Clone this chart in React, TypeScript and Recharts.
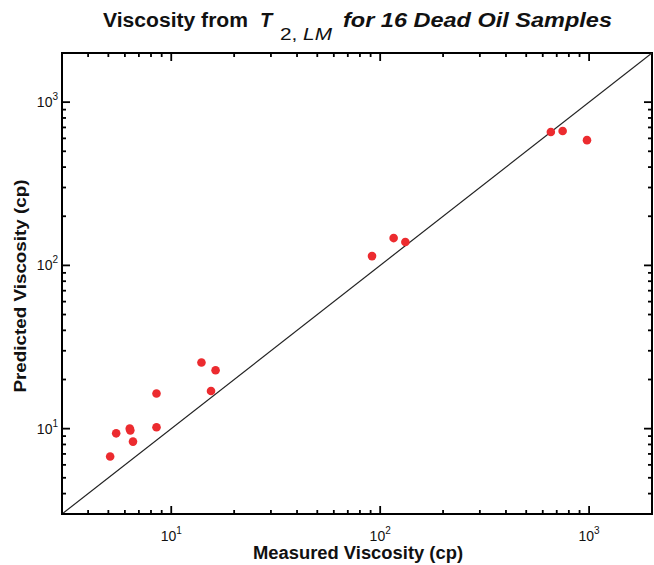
import { ReferenceArea, ReferenceLine, Scatter, ScatterChart, XAxis, YAxis } from "recharts";

// measured vs predicted viscosity (cp)
const measured = [5.1, 5.45, 6.33, 6.37, 6.56, 8.5, 8.5, 13.95, 16.3, 15.5, 91.4, 116, 132, 656, 747, 977];
const predicted = [6.75, 9.36, 10.0, 9.76, 8.33, 10.2, 16.4, 25.4, 22.8, 17.0, 114, 147, 139, 656, 665, 585];

const majorTicks = [10, 100, 1000];
const majorExponents = ["1", "2", "3"];
const minorTicks = [
  4, 5, 6, 7, 8, 9, 20, 30, 40, 50, 60, 70, 80, 90, 200, 300, 400, 500, 600, 700, 800, 900,
];
const domain: [number, number] = [3, 2000];

const data = measured.map((m, i) => ({ measured: m, predicted: predicted[i] }));

const font = "'Liberation Sans', Arial, sans-serif";

const expOf = (v: number) => {
  const i = majorTicks.indexOf(v);
  return i >= 0 ? majorExponents[i] : null;
};

const BottomTick = (props: any) => {
  const { x, y, payload } = props;
  const exp = expOf(payload.value);
  if (!exp) return <g />;
  return (
    <text x={x} y={y + 27} textAnchor="middle" fontSize={14} fontFamily={font} fill="#111">
      10<tspan dy={-7} fontSize={10}>{exp}</tspan>
    </text>
  );
};

const LeftTick = (props: any) => {
  const { x, y, payload } = props;
  const exp = expOf(payload.value);
  if (!exp) return <g />;
  return (
    <text x={x - 4} y={y + 5} textAnchor="end" fontSize={14} fontFamily={font} fill="#111">
      10<tspan dy={-7} fontSize={10}>{exp}</tspan>
    </text>
  );
};

// short inward tick marks at both ends of a reference line
const tickShape = (len: number, vertical: boolean) => (p: any) => {
  const { x1, y1, x2, y2 } = p;
  if (vertical) {
    const top = Math.min(y1, y2);
    const bot = Math.max(y1, y2);
    return (
      <g>
        <line x1={x1} y1={bot} x2={x1} y2={bot - len} stroke="#000" strokeWidth={1.8} />
        <line x1={x1} y1={top} x2={x1} y2={top + len} stroke="#000" strokeWidth={1.8} />
      </g>
    );
  }
  const left = Math.min(x1, x2);
  const right = Math.max(x1, x2);
  return (
    <g>
      <line x1={left} y1={y1} x2={left + len} y2={y1} stroke="#000" strokeWidth={1.8} />
      <line x1={right} y1={y1} x2={right - len} y2={y1} stroke="#000" strokeWidth={1.8} />
    </g>
  );
};

export default function App() {
  return (
    <div style={{ position: "absolute", left: 0, top: 0, width: 654, height: 565, background: "#fff" }}>
      <ScatterChart width={654} height={565} margin={{ top: 53, right: 2, left: 0, bottom: 0 }}>
        <XAxis
          dataKey="measured"
          type="number"
          scale="log"
          domain={domain}
          allowDataOverflow
          ticks={majorTicks}
          interval={0}
          tickSize={0}
          tickMargin={0}
          tickLine={false}
          height={51}
          axisLine={{ stroke: "#000", strokeWidth: 2 }}
          tick={<BottomTick />}
        />
        <YAxis
          dataKey="predicted"
          type="number"
          scale="log"
          domain={domain}
          allowDataOverflow
          ticks={majorTicks}
          interval={0}
          tickSize={0}
          tickMargin={0}
          tickLine={false}
          width={62}
          axisLine={{ stroke: "#000", strokeWidth: 2 }}
          tick={<LeftTick />}
        />
        <ReferenceArea
          x1={domain[0]}
          x2={domain[1]}
          y1={domain[0]}
          y2={domain[1]}
          fill="none"
          fillOpacity={0}
          stroke="#000"
          strokeWidth={2}
        />
        {minorTicks.map((t) => (
          <ReferenceLine key={`mx${t}`} x={t} stroke="none" shape={tickShape(4, true)} />
        ))}
        {majorTicks.map((t) => (
          <ReferenceLine key={`Mx${t}`} x={t} stroke="none" shape={tickShape(8, true)} />
        ))}
        {minorTicks.map((t) => (
          <ReferenceLine key={`my${t}`} y={t} stroke="none" shape={tickShape(4, false)} />
        ))}
        {majorTicks.map((t) => (
          <ReferenceLine key={`My${t}`} y={t} stroke="none" shape={tickShape(8, false)} />
        ))}
        <ReferenceLine
          segment={[
            { x: domain[0], y: domain[0] },
            { x: domain[1], y: domain[1] },
          ]}
          stroke="#222"
          strokeWidth={1.2}
          ifOverflow="hidden"
        />
        <Scatter
          data={data}
          fill="#ec2b2f"
          shape={(p: any) => <circle cx={p.cx} cy={p.cy} r={4.3} fill="#ec2b2f" />}
          isAnimationActive={false}
        />
      </ScatterChart>
      <svg
        width={654}
        height={565}
        style={{ position: "absolute", left: 0, top: 0, pointerEvents: "none" }}
      >
        <g fontFamily={font} fill="#111">
          <text x={103} y={27} fontSize={20} fontWeight="bold" textLength={145} lengthAdjust="spacingAndGlyphs">
            Viscosity from
          </text>
          <text x={260} y={27} fontSize={20} fontWeight="bold" fontStyle="italic">
            T
          </text>
          <text x={280} y={40} fontSize={17} textLength={52} lengthAdjust="spacingAndGlyphs">
            2, <tspan fontStyle="italic">LM</tspan>
          </text>
          <text
            x={343}
            y={27}
            fontSize={20}
            fontWeight="bold"
            fontStyle="italic"
            textLength={269}
            lengthAdjust="spacingAndGlyphs"
          >
            for 16 Dead Oil Samples
          </text>
        </g>
        <text
          x={358}
          y={559}
          textAnchor="middle"
          fontFamily={font}
          fontSize={18}
          fontWeight="bold"
          fill="#111"
          textLength={210}
          lengthAdjust="spacingAndGlyphs"
        >
          Measured Viscosity (cp)
        </text>
        <text
          x={0}
          y={0}
          transform="translate(26 286) rotate(-90)"
          textAnchor="middle"
          fontFamily={font}
          fontSize={17}
          fontWeight="bold"
          fill="#111"
          textLength={213}
          lengthAdjust="spacingAndGlyphs"
        >
          Predicted Viscosity (cp)
        </text>
      </svg>
    </div>
  );
}
